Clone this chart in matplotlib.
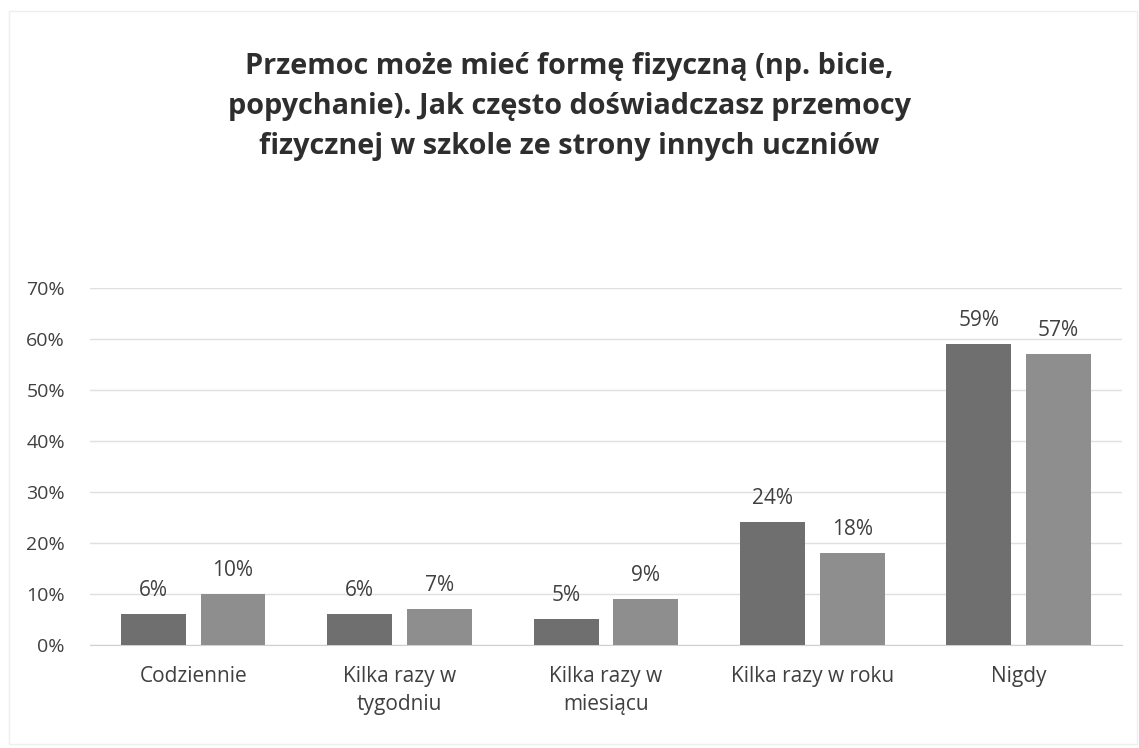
import matplotlib
matplotlib.use("Agg")
import matplotlib.pyplot as plt
import numpy as np

# Data
categories = ["Codziennie", "Kilka razy w\ntygodniu", "Kilka razy w\nmiesiącu",
              "Kilka razy w roku", "Nigdy"]
series_a = [6, 6, 5, 24, 59]
series_b = [10, 7, 9, 18, 57]
yticks = [0, 10, 20, 30, 40, 50, 60, 70]
title = ("Przemoc może mieć formę fizyczną (np. bicie,\n"
         "popychanie). Jak często doświadczasz przemocy\n"
         "fizycznej w szkole ze strony innych uczniów")

plt.rcParams["font.family"] = ["Open Sans", "DejaVu Sans"]

fig = plt.figure(figsize=(11.39, 7.48), dpi=100)
ax = fig.add_axes([0.079, 0.138, 0.906, 0.477])

x = np.arange(len(categories))
w = 0.314
off = 0.193
bars_a = ax.bar(x - off, series_a, w, color="#6f6f6f", zorder=3)
bars_b = ax.bar(x + off, series_b, w, color="#8e8e8e", zorder=3)

for bars, vals in [(bars_a, series_a), (bars_b, series_b)]:
    for rect, v in zip(bars, vals):
        ax.text(rect.get_x() + rect.get_width() / 2, v + 2.6, f"{v}%",
                ha="center", va="bottom", fontsize=15, color="#404040")

ax.set_xlim(-0.5, len(categories) - 0.5)
ax.set_ylim(0, 70)
ax.set_yticks(yticks)
ax.set_yticklabels([f"{t}%" for t in yticks], fontsize=14, color="#404040")
ax.set_xticks(x)
ax.set_xticklabels(categories, fontsize=15, color="#404040", linespacing=1.45)
ax.tick_params(length=0)
ax.tick_params(axis="x", pad=15)
ax.tick_params(axis="y", pad=18)
ax.grid(axis="y", color="#e0e0e0", linewidth=1, zorder=0)
for s in ["top", "right", "left"]:
    ax.spines[s].set_visible(False)
ax.spines["bottom"].set_color("#d0d0d0")

fig.text(0.5, 0.857, title, ha="center", va="center", fontsize=20.8,
         fontweight="bold", color="#2e2e2e", linespacing=1.5)

# faint chart border
fig.patches.append(plt.Rectangle((0.008, 0.005), 0.99, 0.98, transform=fig.transFigure,
                                 fill=False, edgecolor="#eeeeee", linewidth=1))

fig.savefig("out.png", dpi=100)
